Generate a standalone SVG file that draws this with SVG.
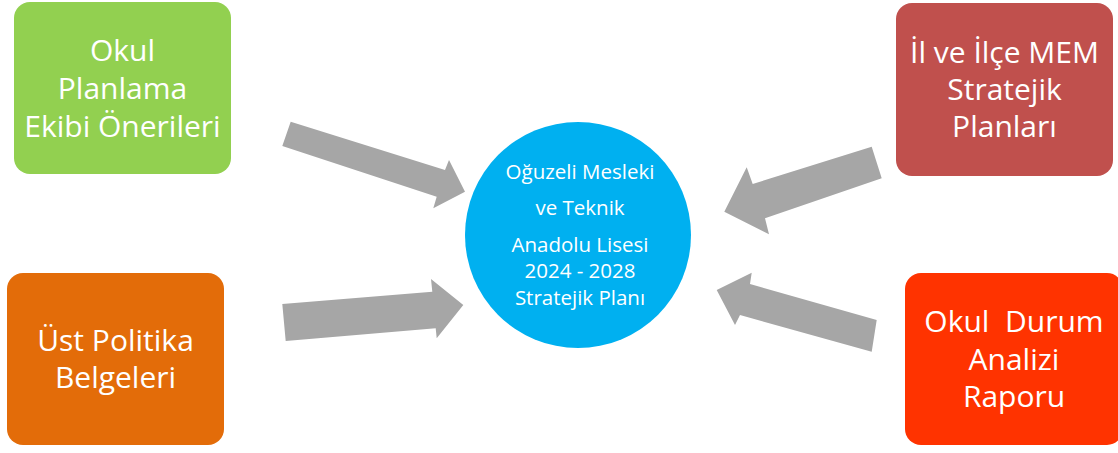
<svg xmlns="http://www.w3.org/2000/svg" width="1118" height="453" viewBox="0 0 1118 453">
<style>
.box{stroke:none}
.bt{font-family:"Open Sans","Liberation Sans",sans-serif;font-size:30px;fill:#ffffff;text-anchor:middle}
.ct{font-family:"Open Sans","Liberation Sans",sans-serif;font-size:20.5px;fill:#ffffff;text-anchor:middle}
.arr{fill:#a6a6a6}
</style>
<rect width="1118" height="453" fill="#ffffff"/>
<g id="connectors">
<polygon class="arr" points="290.7,121.7 445,170 449,160 465,191.7 433.3,208.3 436.7,196.7 282.3,146"/>
<polygon class="arr" points="282.3,304 432.3,291.7 431,279 463.3,305 436.7,338.3 435.7,328.3 285.7,341"/>
<polygon class="arr" points="871.7,146.7 752.7,184 746.7,167.3 724.3,211.7 769,234.3 765,218.3 881.7,178.3"/>
<polygon class="arr" points="876.7,320 750,284 751.7,272.7 716.7,290 735,325 740,315 871.7,351.7"/>
</g>
<g id="node-okul-planlama">
<rect class="box" x="14" y="2" width="217" height="172" rx="16" fill="#92d050"/>
<text class="bt" x="122.5" y="61">Okul</text>
<text class="bt" x="122.5" y="99">Planlama</text>
<text class="bt" x="122.5" y="137">Ekibi Önerileri</text>
</g>
<g id="node-il-ilce">
<rect class="box" x="896" y="3" width="217" height="173" rx="16" fill="#c0504d"/>
<text class="bt" x="1004.5" y="63">İl ve İlçe MEM</text>
<text class="bt" x="1004.5" y="100">Stratejik</text>
<text class="bt" x="1004.5" y="137">Planları</text>
</g>
<g id="node-ust-politika">
<rect class="box" x="7" y="273" width="217" height="172" rx="16" fill="#e36c09"/>
<text class="bt" x="115.5" y="351">Üst Politika</text>
<text class="bt" x="115.5" y="388">Belgeleri</text>
</g>
<g id="node-okul-durum">
<rect class="box" x="905" y="273" width="218" height="172" rx="16" fill="#ff3300"/>
<text class="bt" x="1014" y="332" xml:space="preserve">Okul  Durum</text>
<text class="bt" x="1014" y="370">Analizi</text>
<text class="bt" x="1014" y="407">Raporu</text>
</g>
<g id="node-center">
<circle cx="578" cy="235" r="113" fill="#00b0f0"/>
<text class="ct" x="580" y="179">Oğuzeli Mesleki</text>
<text class="ct" x="580" y="215">ve Teknik</text>
<text class="ct" x="580" y="252">Anadolu Lisesi</text>
<text class="ct" x="580" y="278">2024 - 2028</text>
<text class="ct" x="580" y="305">Stratejik Planı</text>
</g>
</svg>
